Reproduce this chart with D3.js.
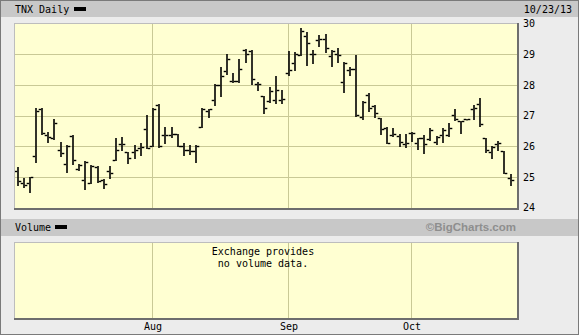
<!DOCTYPE html>
<html><head><meta charset="utf-8">
<script src="https://cdn.jsdelivr.net/npm/d3@7"></script>
<style>
html,body{margin:0;padding:0;background:#ececec;}
svg{display:block;}
text{font-family:"DejaVu Sans Mono",monospace;font-size:10px;fill:#000;}
</style></head><body>
<script>
const dates = ["07/01","07/02","07/03","07/05","07/08","07/09","07/10","07/11","07/12","07/15","07/16","07/17","07/18","07/19","07/22","07/23","07/24","07/25","07/26","07/29","07/30","07/31",
"08/01","08/02","08/05","08/06","08/07","08/08","08/09","08/12","08/13","08/14","08/15","08/16","08/19","08/20","08/21","08/22","08/23","08/26","08/27","08/28","08/29","08/30",
"09/03","09/04","09/05","09/06","09/09","09/10","09/11","09/12","09/13","09/16","09/17","09/18","09/19","09/20","09/23","09/24","09/25","09/26","09/27","09/30",
"10/01","10/02","10/03","10/04","10/07","10/08","10/09","10/10","10/11","10/14","10/15","10/16","10/17","10/18","10/21","10/22","10/23"];
const openV = [25.21,24.80,24.82,25.68,27.23,26.37,26.26,25.88,25.44,26.35,25.25,24.90,24.82,25.34,24.90,25.20,25.56,26.08,25.82,25.83,25.94,26.57,
26.01,27.36,26.37,26.37,26.42,26.01,25.88,25.84,26.64,27.16,27.53,28.00,28.46,28.13,28.13,29.16,29.12,28.05,27.64,27.49,27.51,27.51,
28.38,28.73,28.98,29.60,29.00,29.47,29.52,28.95,29.00,28.11,28.49,28.54,26.97,27.67,27.32,26.93,26.59,26.37,26.34,26.08,
26.45,26.12,26.26,26.24,26.15,26.37,26.37,27.02,26.83,26.91,27.21,27.40,26.29,25.83,26.08,25.86,24.96];
const highV = [25.34,24.97,25.01,27.24,27.24,26.46,26.91,26.15,26.05,26.38,25.42,25.52,25.38,25.37,24.95,25.35,26.27,26.30,25.83,26.05,26.10,27.04,
27.26,27.39,26.64,26.64,26.42,26.12,26.04,26.04,27.27,27.21,28.05,28.60,29.00,28.38,28.84,29.18,29.16,28.11,27.64,27.95,28.29,27.84,
29.11,29.09,29.85,29.72,29.16,29.63,29.68,29.14,29.20,28.74,28.60,28.98,27.49,27.75,27.35,26.93,26.62,26.59,26.42,26.42,
26.48,26.26,26.37,26.59,26.34,26.59,26.75,27.21,26.83,26.91,27.35,27.57,26.29,26.01,26.18,25.86,25.10];
const lowV = [24.74,24.68,24.50,25.50,26.42,26.15,26.23,25.70,25.18,25.44,25.24,24.62,24.80,24.85,24.65,24.97,25.56,25.88,25.47,25.64,25.72,25.94,
26.01,25.99,26.12,26.32,26.01,25.72,25.77,25.50,26.64,26.97,27.35,27.64,28.36,28.11,28.11,28.77,28.05,27.84,27.08,27.46,27.43,27.43,
28.33,28.49,28.98,28.65,28.73,29.27,29.07,28.62,28.76,27.76,28.33,27.00,26.91,27.16,26.97,26.42,26.12,26.34,26.01,25.99,
26.19,25.93,25.80,26.21,26.08,26.15,26.34,26.86,26.45,26.91,26.91,26.66,25.83,25.64,25.88,25.12,24.74];
const closeV = [24.88,24.74,25.00,27.16,26.45,26.32,26.78,25.78,26.01,25.55,25.38,25.48,25.37,24.88,24.77,25.15,25.88,26.07,25.64,25.89,25.98,25.96,
27.22,26.01,26.39,26.42,26.01,25.88,25.86,26.02,27.21,27.21,28.00,28.29,28.84,28.12,28.54,29.03,28.20,28.05,27.24,27.82,27.84,27.55,
28.49,29.00,29.77,29.38,29.03,29.52,29.20,29.11,28.98,28.73,28.51,27.02,27.46,27.27,27.10,26.57,26.12,26.42,26.15,26.12,
26.45,26.26,26.08,26.53,26.32,26.55,26.59,26.88,26.83,26.91,27.24,26.72,25.88,25.99,26.12,25.12,24.90];
const yTicks = [24,25,26,27,28,29,30];
const monthStarts = ["08/01","09/03","10/01"];
const monthLabels = ["Aug","Sep","Oct"];

const W = 579, H = 335;
const P = {l:14, r:517, t:23, b:208};
const V = {t:242, b:318};

const svg = d3.select("body").append("svg").attr("width",W).attr("height",H);
svg.append("rect").attr("x",0.5).attr("y",0.5).attr("width",W-1).attr("height",H-1).attr("fill","#ececec").attr("stroke","#7a7a7a");
svg.append("rect").attr("x",1).attr("y",1).attr("width",W-2).attr("height",16).attr("fill","#c8c8c8");
svg.append("rect").attr("x",1).attr("y",219).attr("width",W-2).attr("height",17).attr("fill","#c8c8c8");

const x = d3.scalePoint().domain(dates).range([17.5, 510.5]);
const y = d3.scaleLinear().domain([24,30]).range([207.8, 23.8]);

function panel(top, bottom){
  const g = svg.append("g");
  g.append("rect").attr("x",P.l).attr("y",top).attr("width",P.r-P.l).attr("height",bottom-top).attr("fill","#ffffd2");
  return g;
}
const gMain = panel(P.t, P.b);
const gVol = panel(V.t, V.b);

gMain.selectAll("line.h").data(yTicks.filter(v=>v>24&&v<30)).join("line")
  .attr("x1",P.l).attr("x2",P.r).attr("y1",d=>Math.round(y(d))+0.5).attr("y2",d=>Math.round(y(d))+0.5)
  .attr("stroke","#c9c996").attr("stroke-width",1);
[ [gMain,P.t,P.b], [gVol,V.t,V.b] ].forEach(([g,t,b])=>{
  g.selectAll("line.v").data(monthStarts).join("line")
   .attr("x1",d=>Math.round(x(d))-0.5).attr("x2",d=>Math.round(x(d))-0.5).attr("y1",t).attr("y2",b)
   .attr("stroke","#c9c996").attr("stroke-width",1);
});
function frame(top,bottom){
  svg.append("line").attr("x1",P.l).attr("x2",P.r).attr("y1",top+0.5).attr("y2",top+0.5).attr("stroke","#bdbdbd");
  svg.append("line").attr("x1",P.l+0.5).attr("x2",P.l+0.5).attr("y1",top).attr("y2",bottom).attr("stroke","#bdbdbd");
  svg.append("line").attr("x1",P.r+1).attr("x2",P.r+1).attr("y1",top).attr("y2",bottom+2).attr("stroke","#6e6e6e").attr("stroke-width",2);
  svg.append("line").attr("x1",P.l).attr("x2",P.r+2).attr("y1",bottom+1).attr("y2",bottom+1).attr("stroke","#6e6e6e").attr("stroke-width",2);
}
frame(P.t,P.b); frame(V.t,V.b);

const idx = d3.range(dates.length);
const bars = gMain.append("g").selectAll("g").data(idx).join("g");
bars.append("rect").attr("x",i=>Math.round(x(dates[i]))-0.8).attr("width",1.6)
  .attr("y",i=>Math.round(y(highV[i]))).attr("height",i=>Math.max(1.5,Math.round(y(lowV[i]))-Math.round(y(highV[i]))+1)).attr("fill","#000");
bars.append("rect").attr("x",i=>Math.round(x(dates[i]))-3.3).attr("width",2.5)
  .attr("y",i=>Math.round(y(openV[i]))-0.2).attr("height",1.4).attr("fill","#000");
bars.append("rect").attr("x",i=>Math.round(x(dates[i]))+0.8).attr("width",2.5)
  .attr("y",i=>Math.round(y(closeV[i]))-0.2).attr("height",1.4).attr("fill","#000");

svg.selectAll("text.yl").data(yTicks).join("text").attr("class","yl")
  .attr("x",523).attr("y",d=>y(d)).attr("dy","0.35em").text(d=>d);

svg.selectAll("text.ml").data(monthStarts).join("text").attr("class","ml")
  .attr("x",d=>Math.round(x(d))).attr("y",330).attr("text-anchor","middle").text((d,i)=>monthLabels[i]);

svg.append("text").attr("x",15).attr("y",13).text("TNX Daily");
svg.append("rect").attr("x",74).attr("y",7).attr("width",12).attr("height",4).attr("fill","#000");
svg.append("text").attr("x",572).attr("y",13).attr("text-anchor","end").text("10/23/13");
svg.append("text").attr("x",15).attr("y",231).text("Volume");
svg.append("rect").attr("x",55).attr("y",225).attr("width",12).attr("height",4).attr("fill","#000");
svg.append("text").attr("x",516).attr("y",231).attr("text-anchor","end")
  .style("font-family","'Liberation Sans',Arial,sans-serif").style("font-weight","bold").style("font-size","11.5px").style("fill","#8e8e8e")
  .text("©BigCharts.com");
svg.append("text").attr("x",263).attr("y",255).attr("text-anchor","middle").text("Exchange provides");
svg.append("text").attr("x",263).attr("y",267).attr("text-anchor","middle").text("no volume data.");
</script>
</body></html>
